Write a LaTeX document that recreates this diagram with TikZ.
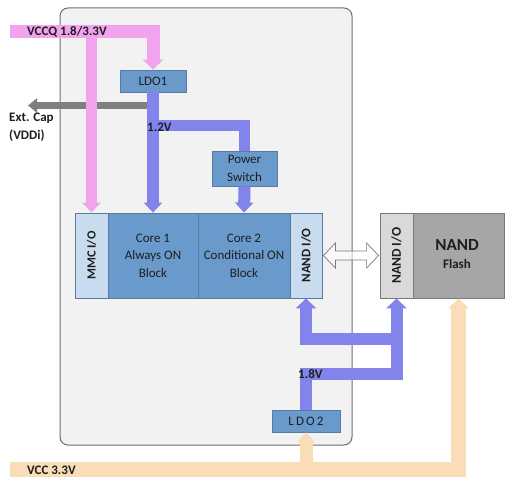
\documentclass[tikz,border=0pt]{standalone}
\usepackage{fontspec}
\setmainfont{Carlito}
\usetikzlibrary{arrows.meta,calc}
\definecolor{chipfill}{HTML}{F2F2F2}
\definecolor{chipline}{HTML}{6E6E6E}
\definecolor{pinkc}{HTML}{F2A3EE}
\definecolor{bluec}{HTML}{8383EC}
\definecolor{beigec}{HTML}{F9DDB6}
\definecolor{grayc}{HTML}{7F7F7F}
\definecolor{corec}{HTML}{6A9ACB}
\definecolor{coreline}{HTML}{587BA3}
\definecolor{iolight}{HTML}{C8DBEF}
\definecolor{nioc}{HTML}{D9D9D9}
\definecolor{flashc}{HTML}{A6A6A6}
\definecolor{greyline}{HTML}{7A7A7A}
\definecolor{txt}{HTML}{1E1E1E}
\begin{document}
\begin{tikzpicture}[x=1pt,y=-1pt,
  bar/.style={line cap=butt, line join=miter},
  pinkbar/.style={bar, draw=pinkc, line width=13pt},
  bluebar/.style={bar, draw=bluec, line width=12pt},
  beigebar/.style={bar, draw=beigec, line width=15pt},
  graybar/.style={bar, draw=grayc, line width=7pt},
  tipbig/.style={-{Triangle[width=20pt,length=10pt]}},
  tipmid/.style={-{Triangle[width=18pt,length=10pt]}},
  tipsmall/.style={-{Triangle[width=14pt,length=9pt]}},
  blk/.style={draw=coreline, line width=0.8pt, inner sep=0pt, text=txt, align=center},
  corebox/.style={blk, fill=corec, font=\fontsize{13}{17.5}\selectfont},
  iobox/.style={blk, fill=iolight, font=\bfseries\fontsize{13}{15}\selectfont},
  lbl/.style={font=\bfseries\fontsize{13}{18}\selectfont, text=txt, inner sep=0pt}
]
\useasboundingbox (0,0) rectangle (510,486);

% chip outline
\node[draw=chipline, fill=chipfill, line width=1pt, rounded corners=8pt,
      minimum width=292pt, minimum height=437pt, inner sep=0pt] (chip) at (206,226.5) {};

% blocks
\node[corebox, minimum width=66pt, minimum height=22pt] (ldo1) at (153,81) {LDO1};
\node[corebox, minimum width=65pt, minimum height=35pt] (psw) at (244.5,168.5) {Power\\Switch};
\node[iobox, minimum width=33pt, minimum height=85pt] (mmc) at (91.5,255.5) {};
\node[corebox, minimum width=90pt, minimum height=85pt] (core1) at (153,255.5) {Core 1\\Always ON\\Block};
\node[corebox, minimum width=92pt, minimum height=85pt] (core2) at (244,255.5) {Core 2\\Conditional ON\\Block};
\node[iobox, minimum width=32pt, minimum height=85pt] (nio1) at (306,255.5) {};
\node[blk, draw=greyline, fill=nioc, minimum width=33pt, minimum height=85pt] (nio2) at (396.5,255.5) {};
\node[blk, draw=greyline, fill=flashc, minimum width=91pt, minimum height=85pt] (flash) at (458.5,255.5) {};
\node[corebox, minimum width=68pt, minimum height=22pt] (ldo2) at (306,421) {L\,D\,O\,2};

% rotated / inner texts
\node[rotate=90, font=\bfseries\fontsize{12.5}{15}\selectfont, text=txt] (mmct) at (mmc) {MMC I/O};
\node[rotate=90, font=\bfseries\fontsize{13}{15}\selectfont, text=txt] (nio1t) at (nio1) {NAND I/O};
\node[rotate=90, font=\bfseries\fontsize{13.5}{15}\selectfont, text=txt] (nio2t) at (nio2) {NAND I/O};
\node[font=\bfseries\fontsize{17}{18}\selectfont, text=txt, inner sep=0pt] (flasht1) at (457,245) {NAND};
\node[font=\bfseries\fontsize{13}{15}\selectfont, text=txt, inner sep=0pt] (flasht2) at (457,264) {Flash};

% free ends and junctions
\coordinate (vccq) at (10,32);
\coordinate (vcc) at (10,469.5);
\coordinate (ext) at (28,105.5);
\coordinate (j12) at (153,125.5);
\coordinate (j18a) at (306,374);
\coordinate (j18b) at (306,339);

% gray Ext. Cap arrow
\draw[graybar, tipsmall] (ldo1 |- ext) -- (ext);

% pink VCCQ
\draw[pinkbar, tipbig] (vccq) -- (vccq -| ldo1) -- (ldo1.north);
\draw[pinkbar, line width=11pt, tipmid] (vccq -| mmc) -- (mmc.north);

% blue 1.2V
\draw[bluebar, tipmid] (ldo1.south) -- (core1.north);
\draw[bluebar, line width=11pt] (j12) -- (j12 -| psw) -- (psw.north);
\draw[bluebar, tipmid] (psw.south) -- (core2.north);

% blue 1.8V
\draw[bluebar, tipbig] (ldo2.north) -- (j18a) -- (j18a -| nio2) -- (nio2.south);
\draw[bluebar, tipbig] (j18b -| nio2) -- (j18b) -- (nio1.south);

% beige VCC 3.3V
\draw[beigebar, tipbig] (vcc) -- (vcc -| flash) -- (flash.south);
\draw[beigebar, line width=13pt, tipmid] (vcc -| ldo2) -- (ldo2.south);

% double hollow arrow
\filldraw[draw=greyline, fill=white, fill opacity=0.6, line width=0.7pt, line join=miter]
  ($(nio1.east)+(1,0)$) -- ++(12,-12.5) -- ++(0,8) -- ($(nio2.west)+(-13,-4.5)$) -- ++(0,-8)
  -- ($(nio2.west)+(-1,0)$) -- ++(-12,12.5) -- ++(0,-8) -- ($(nio1.east)+(13,4.5)$) -- ++(0,8) -- cycle;

% labels
\node[lbl, anchor=west] (vccqt) at (27,32) {VCCQ 1.8/3.3V};
\node[lbl, anchor=west, align=left, font=\bfseries\fontsize{13}{18}\selectfont] (extt) at (9,127) {Ext. Cap\\(VDDi)};
\node[lbl, anchor=west] (v12) at (147,127) {1.2V};
\node[lbl, anchor=west] (v18) at (298,374) {1.8V};
\node[lbl, anchor=west] (vcct) at (27,470) {VCC 3.3V};
\end{tikzpicture}
\end{document}
